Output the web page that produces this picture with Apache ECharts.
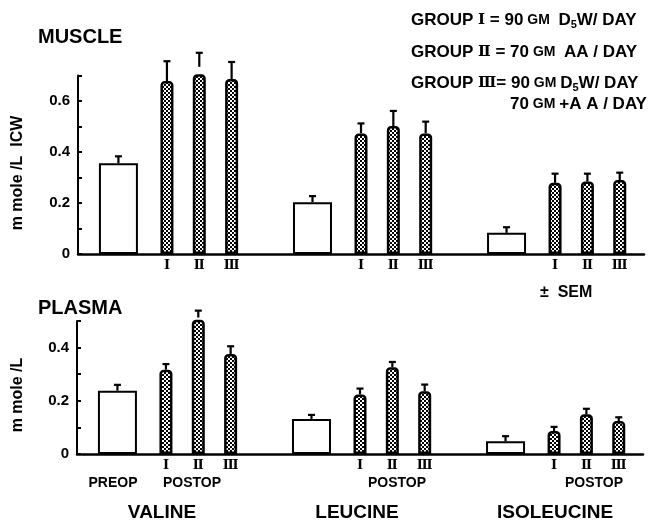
<!DOCTYPE html>
<html><head><meta charset="utf-8">
<script src="https://cdn.jsdelivr.net/npm/echarts@6/dist/echarts.min.js"></script>
<style>html,body{margin:0;padding:0;background:#fff}#c{width:648px;height:525px}</style>
</head><body><div id="c"></div>
<script>
// ---- data ----
const acids = ['VALINE', 'LEUCINE', 'ISOLEUCINE'];
const groups = ['Ⅰ', 'Ⅱ', 'Ⅲ'];
const musclePreop = [0.356, 0.203, 0.083];
const musclePreopErr = [0.027, 0.024, 0.022];
const musclePostop = [[0.678, 0.734, 0.686], [0.473, 0.502, 0.473], [0.279, 0.284, 0.290]];
const musclePostopErr = [[0.078, 0.055, 0.067], [0.039, 0.059, 0.046], [0.036, 0.031, 0.029]];
const plasmaPreop = [0.238, 0.132, 0.048];
const plasmaPreopErr = [0.022, 0.015, 0.019];
const plasmaPostop = [[0.317, 0.513, 0.376], [0.224, 0.326, 0.236], [0.086, 0.149, 0.124]];
const plasmaPostopErr = [[0.021, 0.026, 0.029], [0.022, 0.020, 0.025], [0.016, 0.021, 0.014]];
const muscleMax = 0.7, plasmaMax = 0.5, tickStep = 0.1;

// ---- layout of category slots ----
const SLOTS = 35, FIRST = 2, ACID_STEP = 12, POST_OFF = 3, GROUP_STEP = 2;
const preSlot = a => FIRST + ACID_STEP * a;
const postSlot = (a, g) => FIRST + ACID_STEP * a + POST_OFF + GROUP_STEP * g;

const cats = new Array(SLOTS).fill('');
acids.forEach((_, a) => groups.forEach((g, gi) => { cats[postSlot(a, gi)] = g; }));
const blankCats = new Array(SLOTS).fill('');

function barData(pre, post) {
  const p = new Array(SLOTS).fill(null), q = new Array(SLOTS).fill(null);
  acids.forEach((_, a) => {
    p[preSlot(a)] = pre[a];
    groups.forEach((_, g) => { q[postSlot(a, g)] = post[a][g]; });
  });
  return [p, q];
}
function errData(pre, preE, post, postE) {
  const d = [];
  acids.forEach((_, a) => {
    d.push([preSlot(a), pre[a], pre[a] + preE[a]]);
    groups.forEach((_, g) => d.push([postSlot(a, g), post[a][g], post[a][g] + postE[a][g]]));
  });
  return d;
}

// stipple pattern
const pc = document.createElement('canvas');
pc.width = 4; pc.height = 4;
const cx = pc.getContext('2d');
cx.fillStyle = '#fff'; cx.fillRect(0, 0, 4, 4);
cx.fillStyle = '#000'; cx.fillRect(0, 0, 2, 2); cx.fillRect(2, 2, 2, 2);
const pattern = { image: pc, repeat: 'repeat' };

function renderErr(params, api) {
  const x = api.value(0), m = api.value(1), t = api.value(2);
  const p0 = api.coord([x, m]), p1 = api.coord([x, t]);
  const cap = 7;
  const st = { stroke: '#000', lineWidth: 2.2 };
  return { type: 'group', children: [
    { type: 'line', shape: { x1: p0[0], y1: p0[1], x2: p1[0], y2: p1[1] }, style: st },
    { type: 'line', shape: { x1: p1[0] - cap / 2, y1: p1[1], x2: p1[0] + cap / 2, y2: p1[1] }, style: st }
  ]};
}

const F = 'Liberation Sans';
function xAxis(idx, visible) {
  return {
    type: 'category', gridIndex: idx, data: visible ? cats : blankCats, boundaryGap: true, show: visible,
    axisLine: { lineStyle: { color: '#000', width: 2.5 } },
    axisTick: { show: false },
    axisLabel: { interval: 0, color: '#000', fontFamily: 'DejaVu Serif', fontWeight: 'bold', fontSize: 13, margin: 5 }
  };
}
function yAxis(idx, max) {
  return {
    type: 'value', gridIndex: idx, min: 0, max: max, interval: tickStep,
    axisLine: { show: true, lineStyle: { color: '#000', width: 2 } },
    axisTick: { show: true, inside: true, length: 4, lineStyle: { color: '#000', width: 2 } },
    splitLine: { show: false },
    axisLabel: {
      color: '#000', fontFamily: F, fontWeight: 'bold', fontSize: 15, margin: 8,
      formatter: v => { const k = Math.round(v * 10); if (k % 2) return ''; return k === 0 ? '0' : (k / 10).toFixed(1); }
    }
  };
}

const [mPre, mPost] = barData(musclePreop, musclePostop);
const [pPre, pPost] = barData(plasmaPreop, plasmaPostop);

// x axes: 0 = muscle visible, 1 = plasma visible, 2 = muscle hidden (preop), 3 = plasma hidden (preop)
function seriesFor(idx, pre, post, err) {
  return [
    { type: 'bar', xAxisIndex: idx + 2, yAxisIndex: idx, data: pre, barWidth: 39,
      itemStyle: { color: '#fff', borderColor: '#000', borderWidth: 2 }, silent: true },
    { type: 'bar', xAxisIndex: idx, yAxisIndex: idx, data: post, barWidth: 13,
      itemStyle: { color: pattern, borderColor: '#000', borderWidth: 2.5, borderRadius: [3, 3, 0, 0] }, silent: true },
    { type: 'custom', xAxisIndex: idx, yAxisIndex: idx, data: err, renderItem: renderErr, z: 5, silent: true }
  ];
}

const txt = (text, x, y, size, align, extra) => Object.assign({
  type: 'text', x: x, y: y, silent: true,
  style: { text: text, font: 'bold ' + size + 'px "' + F + '"', fill: '#000',
    align: align || 'left', verticalAlign: 'middle', textAlign: align || 'left', textVerticalAlign: 'middle' }
}, extra || {});

const richBase = {
  t: { fontFamily: F, fontWeight: 'bold', fontSize: 17, lineHeight: 20, color: '#000' },
  s: { fontFamily: F, fontWeight: 'bold', fontSize: 14, lineHeight: 20, color: '#000' },
  r: { fontFamily: 'DejaVu Serif', fontWeight: 'bold', fontSize: 15, lineHeight: 20, color: '#000' },
  sub: { fontFamily: F, fontWeight: 'bold', fontSize: 11, lineHeight: 12, verticalAlign: 'bottom', color: '#000' }
};
const legendLine = (text, x, y) => ({
  type: 'text', x: x, y: y, silent: true,
  style: { text: text, rich: richBase, align: 'left', verticalAlign: 'middle', textVerticalAlign: 'middle' }
});

const graphic = [
  txt('MUSCLE', 38, 37, 20),
  txt('PLASMA', 38, 308, 20),
  txt('m mole /L  ICW', 18, 173, 16, 'center', { rotation: Math.PI / 2 }),
  txt('m mole /L', 18, 395, 16, 'center', { rotation: Math.PI / 2 }),
  txt('±  SEM', 540, 293, 16),
  txt('PREOP', 113, 483, 14, 'center'),
  txt('POSTOP', 192, 483, 14, 'center'),
  txt('POSTOP', 397, 483, 14, 'center'),
  txt('POSTOP', 594, 483, 14, 'center'),
  txt(acids[0], 162, 513, 19, 'center'),
  txt(acids[1], 357, 513, 19, 'center'),
  txt(acids[2], 555, 513, 19, 'center'),
  legendLine('{t|GROUP }{r|' + groups[0] + '}{t| = 90}{s| GM }{t| D}{sub|5}{t|W/ DAY}', 411, 20),
  legendLine('{t|GROUP }{r|' + groups[1] + '}{t| = 70}{s| GM }{t| AA / DAY}', 411, 52),
  legendLine('{t|GROUP }{r|' + groups[2] + '}{t|= 90}{s| GM }{t|D}{sub|5}{t|W/ DAY}', 411, 83),
  legendLine('{t|70}{s| GM }{t|+A A / DAY}', 510, 104)
];

const chart = echarts.init(document.getElementById('c'), null, { renderer: 'canvas' });
chart.setOption({
  backgroundColor: '#fff',
  animation: false,
  grid: [
    { left: 78, top: 75.5, width: 566, height: 178.5 },
    { left: 77, top: 321, width: 566, height: 133 }
  ],
  xAxis: [xAxis(0, true), xAxis(1, true), xAxis(0, false), xAxis(1, false)],
  yAxis: [yAxis(0, muscleMax), yAxis(1, plasmaMax)],
  series: [].concat(
    seriesFor(0, mPre, mPost, errData(musclePreop, musclePreopErr, musclePostop, musclePostopErr)),
    seriesFor(1, pPre, pPost, errData(plasmaPreop, plasmaPreopErr, plasmaPostop, plasmaPostopErr))
  ),
  graphic: graphic
});
</script>
</body></html>
